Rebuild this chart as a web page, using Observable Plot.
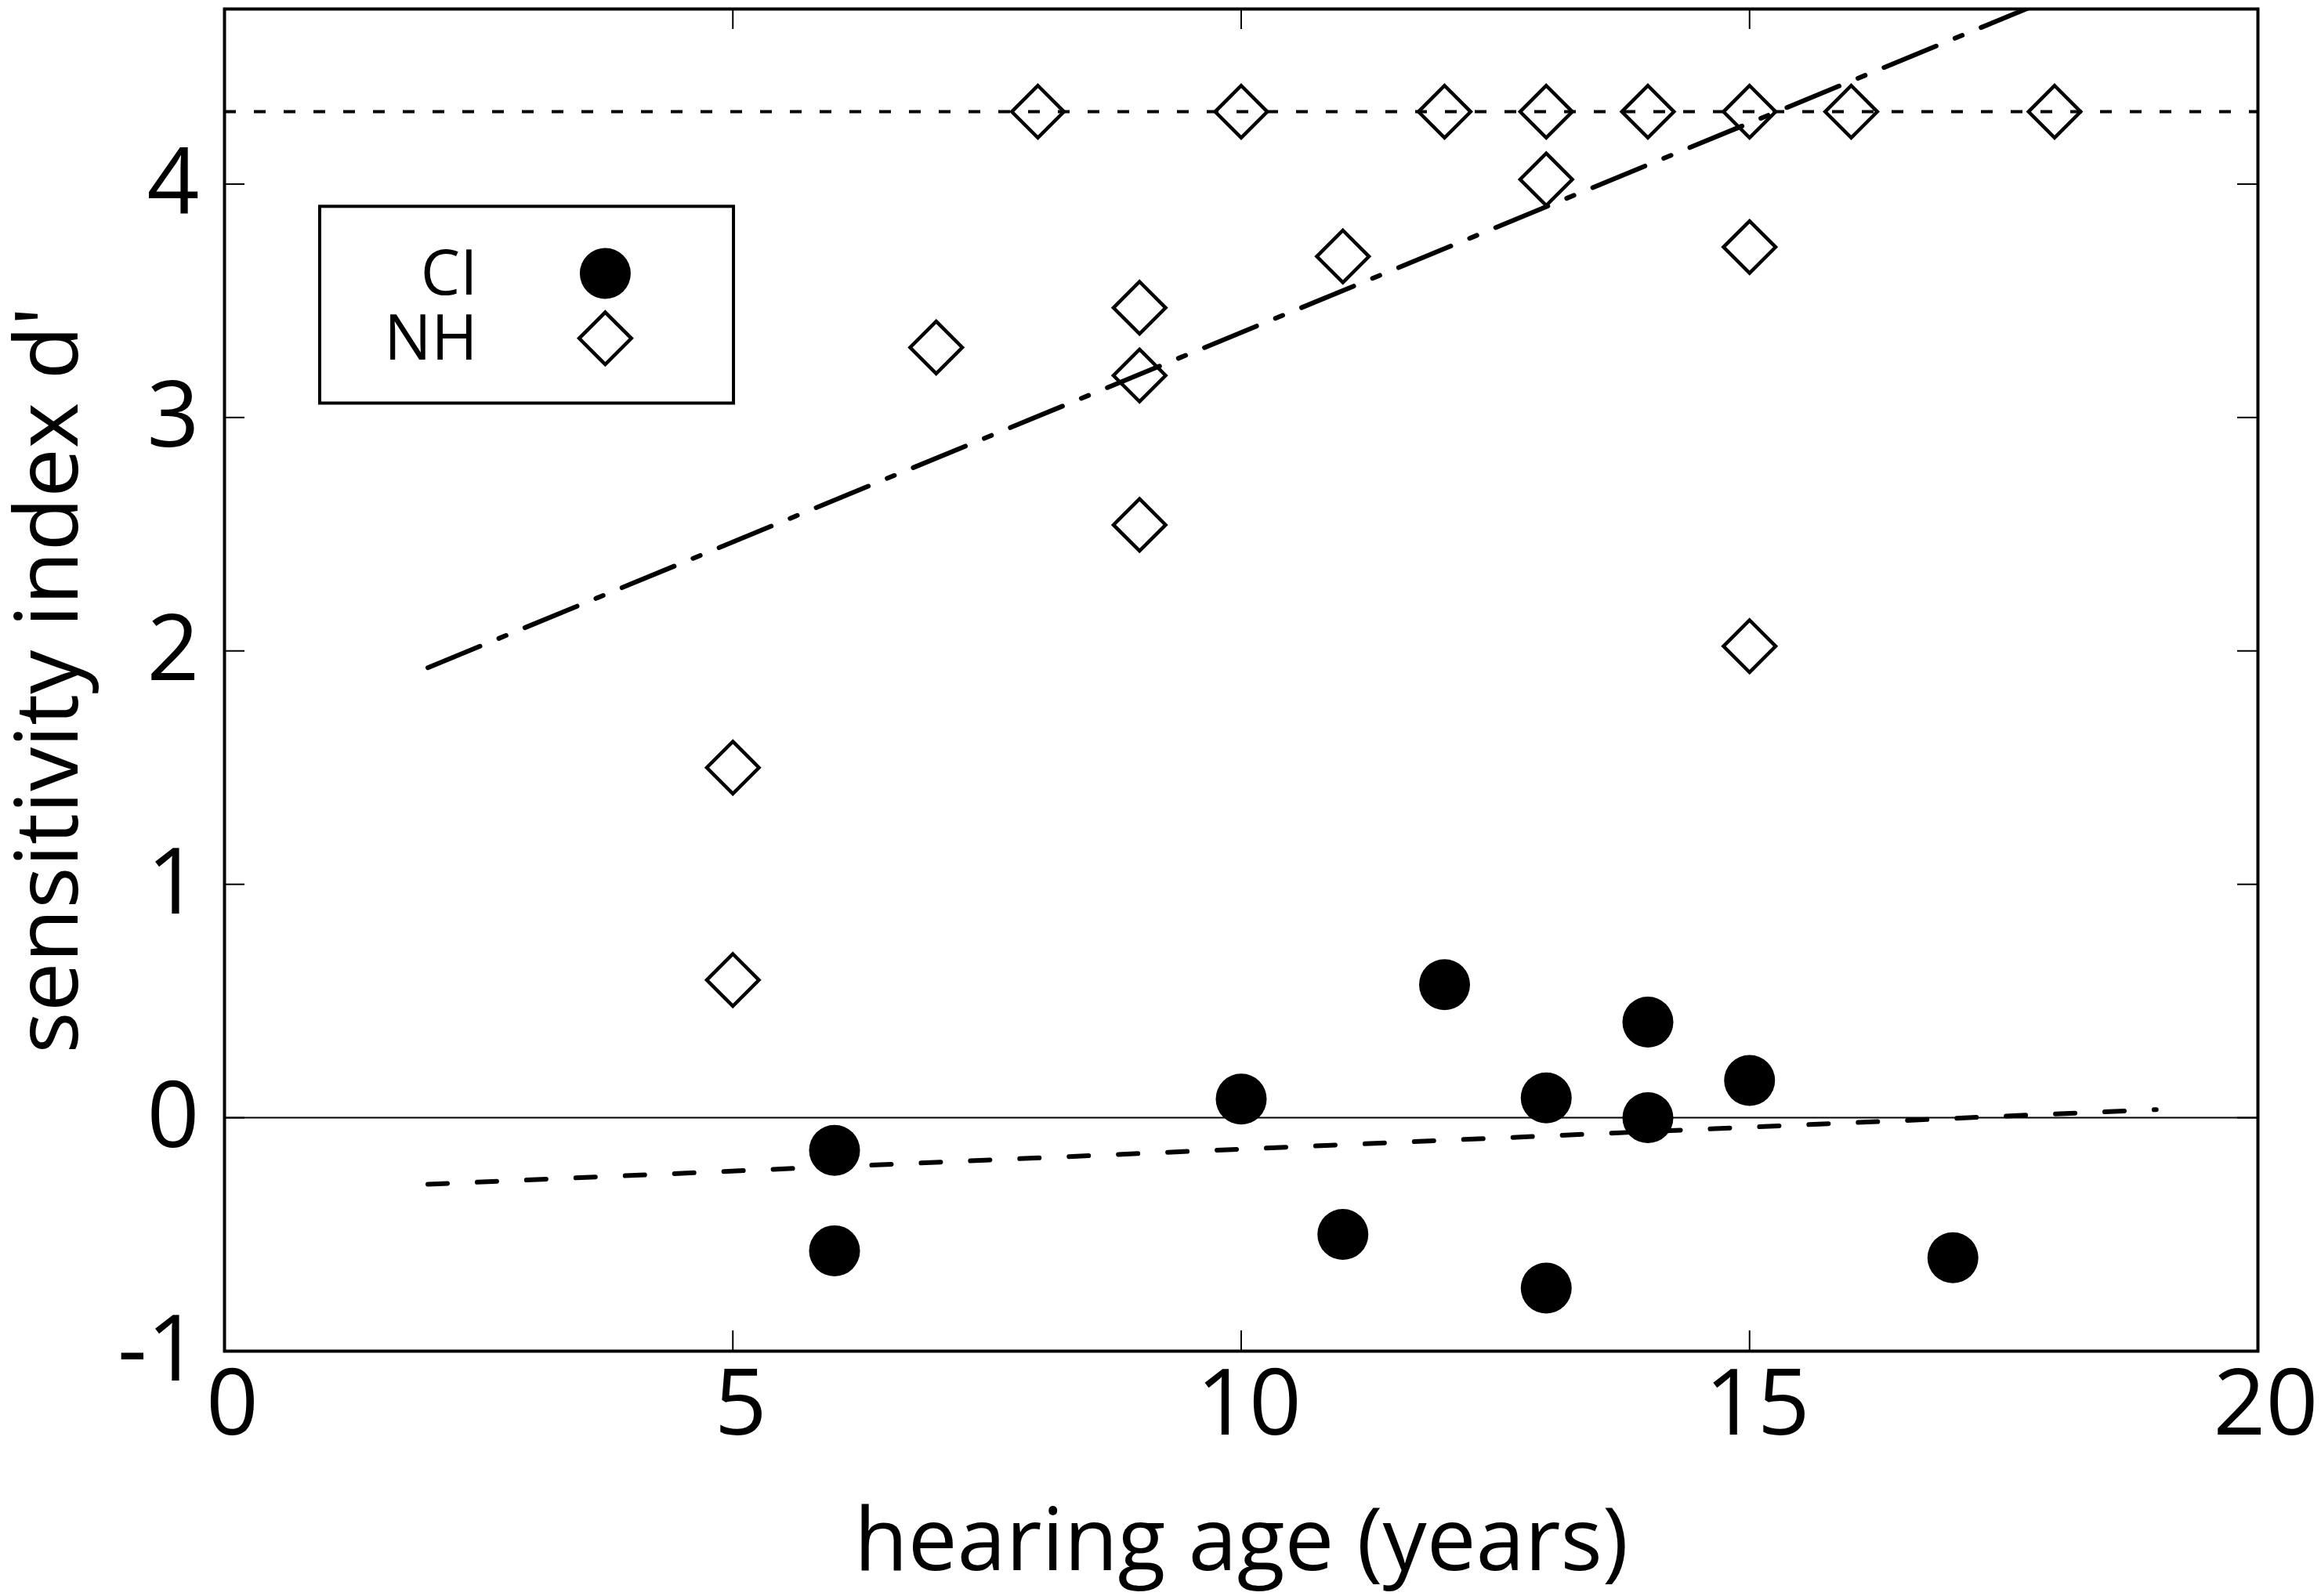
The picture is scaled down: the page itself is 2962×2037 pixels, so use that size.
<!DOCTYPE html>
<html><head><meta charset="utf-8">
<script src="https://cdn.jsdelivr.net/npm/d3@7"></script>
<script src="https://cdn.jsdelivr.net/npm/@observablehq/plot@0.6"></script>
<style>html,body{margin:0;padding:0;background:#fff} svg{display:block}</style>
</head><body><div id="chart"></div>
<script>
// ---- data ----
const ciAge = [6, 6, 10, 11, 12, 13, 13, 14, 14, 15, 17];
const ciD   = [-0.14, -0.57, 0.08, -0.50, 0.57, 0.085, -0.73, 0.41, 0.0, 0.16, -0.60];
const nhAge = [5, 5, 7, 8, 9, 9, 9, 10, 11, 12, 13, 13, 14, 15, 15, 15, 16, 18];
const nhD   = [1.50, 0.59, 3.30, 4.31, 3.47, 3.18, 2.54, 4.31, 3.69, 4.31, 4.31, 4.02, 4.31, 4.31, 3.73, 2.02, 4.31, 4.31];
const ceiling = [4.31];
const ciFitAge = [2, 19];
const ciFitD   = [-0.285, 0.035];
const nhFitAge = [2, 19];
const nhFitD   = [1.928, 4.98];
const xTicks = [0, 5, 10, 15, 20];
const yTicks = [-1, 0, 1, 2, 3, 4];
const xLabel = "hearing age (years)";
const yLabel = "sensitivity index d'";
const legendLabels = ["CI", "NH"];

// ---- build tables ----
const ci = ciAge.map((x, i) => ({x, y: ciD[i]}));
const nh = nhAge.map((x, i) => ({x, y: nhD[i]}));
const ciFit = ciFitAge.map((x, i) => ({x, y: ciFitD[i]}));
const nhFit = nhFitAge.map((x, i) => ({x, y: nhFitD[i]}));

const W = 2962, H = 2037, mL = 286, mR = 81, mT = 11, mB = 313;
const innerW = W - mL - mR, innerH = H - mT - mB;
const FF = "'Open Sans', 'Noto Sans', sans-serif";
const tickLen = 26;

const chart = Plot.plot({
  width: W, height: H,
  marginLeft: mL, marginRight: mR, marginTop: mT, marginBottom: mB,
  style: {fontFamily: FF, background: "white", color: "black"},
  x: {domain: [0, 20]},
  y: {domain: [-1, 4.75]},
  marks: [
    Plot.ruleY([0], {stroke: "black", strokeWidth: 2}),
    Plot.ruleY(ceiling, {stroke: "black", strokeWidth: 4, strokeDasharray: "15,23"}),
    Plot.line(ciFit, {x: "x", y: "y", stroke: "black", strokeWidth: 6, strokeDasharray: "25,38", clip: true}),
    Plot.line(nhFit, {x: "x", y: "y", stroke: "black", strokeWidth: 6, strokeDasharray: "72,26,10,26", clip: true}),
    Plot.dot(nh, {x: "x", y: "y", symbol: "diamond2", r: 30, stroke: "black", strokeWidth: 4.5, fill: "none"}),
    Plot.dot(ci, {x: "x", y: "y", r: 32.5, fill: "black", stroke: "none"}),
    // inward ticks on all four sides
    Plot.tickX(xTicks, {x: d => d, insetTop: innerH - tickLen, stroke: "black", strokeWidth: 2}),
    Plot.tickX(xTicks, {x: d => d, insetBottom: innerH - tickLen, stroke: "black", strokeWidth: 2}),
    Plot.tickY(yTicks, {y: d => d, insetRight: innerW - tickLen, stroke: "black", strokeWidth: 2}),
    Plot.tickY(yTicks, {y: d => d, insetLeft: innerW - tickLen, stroke: "black", strokeWidth: 2}),
    Plot.axisX(xTicks, {tickSize: 0, tickPadding: 23, fontSize: 117, dx: 10, tickFormat: d => String(d), label: null, fontFamily: FF}),
    Plot.axisY(yTicks, {tickSize: 0, tickPadding: 32, fontSize: 117, tickFormat: d => String(d), label: null, fontFamily: FF}),
    Plot.frame({stroke: "black", strokeWidth: 4}),
    // legend
    Plot.rect([0], {x1: 0.94, x2: 5.01, y1: 3.06, y2: 3.903, stroke: "black", strokeWidth: 4, fill: "white"}),
    Plot.text([legendLabels[0]], {x: 2.49, y: 3.527, text: d => d, textAnchor: "end", lineAnchor: "bottom", fontSize: 80, fontFamily: FF}),
    Plot.text([legendLabels[1]], {x: 2.49, y: 3.248, text: d => d, textAnchor: "end", lineAnchor: "bottom", fontSize: 80, fontFamily: FF}),
    Plot.dot([0], {x: 3.745, y: 3.617, r: 32.5, fill: "black", stroke: "none"}),
    Plot.dot([0], {x: 3.745, y: 3.339, symbol: "diamond2", r: 30, stroke: "black", strokeWidth: 4.5, fill: "none"}),
    // axis titles
    Plot.text([xLabel], {frameAnchor: "bottom", dy: 279, text: d => d, textAnchor: "middle", lineAnchor: "bottom", fontSize: 112, fontFamily: FF}),
    Plot.text([yLabel], {frameAnchor: "left", dx: -188, text: d => d, rotate: -90, textAnchor: "middle", lineAnchor: "bottom", fontSize: 112, fontFamily: FF})
  ]
});
document.getElementById("chart").appendChild(chart);
</script>
</body></html>
